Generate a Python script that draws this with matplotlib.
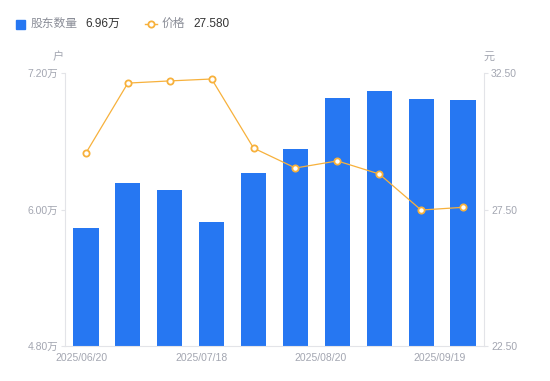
import matplotlib
matplotlib.use("Agg")
import matplotlib.pyplot as plt
import numpy as np

plt.rcParams['font.family'] = ['Liberation Sans', 'Noto Sans CJK SC', 'DejaVu Sans']

# data
dates = ["2025/06/20", "", "", "2025/07/18", "", "", "2025/08/20", "", "", "2025/09/19"]
holders = [5.84, 6.23, 6.17, 5.89, 6.32, 6.53, 6.98, 7.04, 6.97, 6.96]   # 万户
price = [29.57, 32.13, 32.21, 32.28, 29.75, 29.02, 29.28, 28.80, 27.48, 27.58]
left_ticks = [4.80, 6.00, 7.20]
right_ticks = [22.50, 27.50, 32.50]

blue = "#2677f2"
orange = "#f7b13c"
grey = "#a3a6b1"
axcol = "#e3e4e8"

fig = plt.figure(figsize=(5.5, 3.81), dpi=100)
ax = fig.add_axes([65/550, 1-346/381, 419/550, 273/381])
x = np.arange(len(holders))

ax.bar(x, holders, width=0.6, color=blue, zorder=2)
ax.set_xlim(-0.5, len(holders) - 0.5)
ax.set_ylim(left_ticks[0], left_ticks[-1])
ax.set_yticks(left_ticks)
ax.set_yticklabels([f"{v:.2f}万" for v in left_ticks])

idx = [i for i, d in enumerate(dates) if d]
ax.set_xticks(np.array(idx) * 0.95 - 0.1)
ax.set_xticklabels([dates[i] for i in idx])

ax2 = ax.twinx()
ax2.plot(x, price, color=orange, lw=0.9, marker="o", ms=4.5, mfc="white",
         mec=orange, mew=1.3, zorder=3)
ax2.set_ylim(right_ticks[0], right_ticks[-1])
ax2.set_yticks(right_ticks)
ax2.set_yticklabels([f"{v:.2f}" for v in right_ticks])

for a in (ax, ax2):
    for s in a.spines.values():
        s.set_visible(False)
    a.tick_params(colors=grey, labelsize=7.5, length=3, width=0.8, pad=2)
    a.tick_params(axis="y", color=axcol)
ax.tick_params(axis="x", length=0, pad=5)
ax.spines["left"].set_visible(True)
ax.spines["left"].set_color(axcol)
ax.spines["bottom"].set_visible(True)
ax.spines["bottom"].set_color(axcol)
ax2.spines["right"].set_visible(True)
ax2.spines["right"].set_color(axcol)

fig.text(58/550, 1-57/381, "户", color=grey, fontsize=8, ha="center", va="center")
fig.text(489/550, 1-57/381, "元", color=grey, fontsize=8, ha="center", va="center")

# legend row
fig.patches.append(plt.Rectangle((16/550, 1-29/381), 9/550, 9/381,
                                 transform=fig.transFigure, color=blue))
fig.text(31/550, 1-24/381, "股东数量", color="#8a8d97", fontsize=8.5, va="center")
fig.text(85/550, 1-24/381, f"{holders[-1]:.2f}万", color="#333333", fontsize=8.5, va="center")
fig.lines.append(plt.Line2D([145/550, 157/550], [1-24/381, 1-24/381], transform=fig.transFigure,
                            color=orange, lw=1))
fig.lines.append(plt.Line2D([151/550], [1-24/381], transform=fig.transFigure,
                            color=orange, marker="o", ms=4.5, mfc="white", mew=1.3, lw=0))
fig.text(162/550, 1-24/381, "价格", color="#8a8d97", fontsize=8.5, va="center")
fig.text(193/550, 1-24/381, f"{price[-1]:.3f}", color="#333333", fontsize=8.5, va="center")

fig.savefig("out.png", dpi=100)
